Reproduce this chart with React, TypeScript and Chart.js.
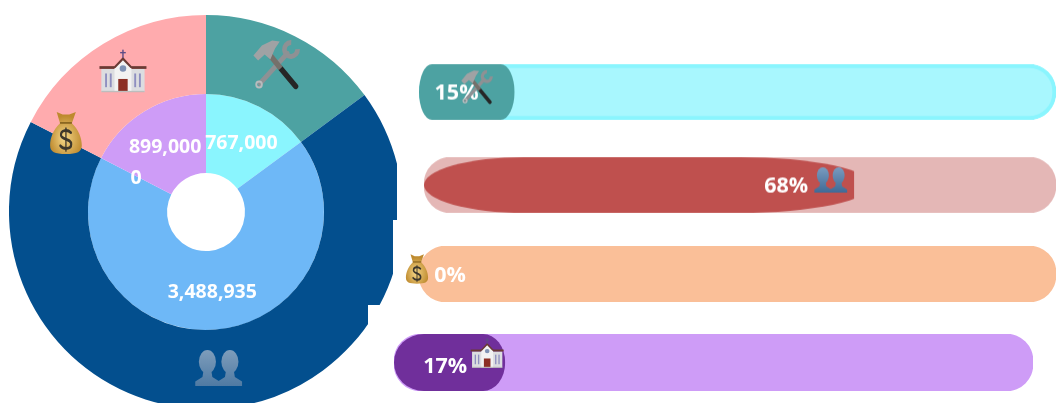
import React, { useEffect, useRef } from "react";
import { Chart, registerables } from "chart.js";

Chart.register(...registerables);

// ---- data ----
const categories = ["tools", "people", "money", "church"];
const amounts = [767000, 3488935, 0, 899000];
const percents = [15, 68, 0, 17.4];

// ---- styles ----
const outerColors = ["#4DA2A2", "#034F8E", "#F79646", "#FFABAE"];
const innerColors = ["#8AF5FE", "#6EB8F7", "#F9BF98", "#CE9CF7"];
const trackColors = ["#A8F7FE", "#E4B7B6", "#FABF98", "#CE9CF7"];
const trackBorders = ["#8AF5FE", "#E4B7B6", "#FABF98", "#CE9CF7"];
const trackBorderWidths = [4, 0, 0, 0];
const fillColors = ["#4DA2A2", "#BF504E", "rgba(0,0,0,0)", "#702F9B"];
const FONT = "bold 19.5px 'Open Sans'";
const BAR_FONT = "bold 21.5px 'Open Sans'";
const PAD = 40;
const rowBoxes = [
  { left: 419, top: 64, width: 637, height: 55.5 },
  { left: 424, top: 157, width: 632, height: 55.5 },
  { left: 419, top: 246, width: 637, height: 56 },
  { left: 394, top: 334, width: 639, height: 57 },
];
const fillShape = [
  { rxL: 13, rxR: 14, over: 0 },
  { rxL: 100, rxR: 132, over: 18 },
  { rxL: 1, rxR: 1, over: 0 },
  { rxL: 30, rxR: 22, over: 0 },
];
// offsets from the end of each filled bar
const labelDx = [-58, -67.5, 31, -60];
const labelDy = [1.5, 1.5, 2, 4];
const iconDx = [-38, -23, -2, -18];
const iconDy = [-5, -5, -5, -8.5];
const iconSize = [0.68, 0.7, 0.7, 0.7];
const ringIconOffset = [
  [-1, -7],
  [0, -1],
  [0, -7],
  [-1, -5],
];

// ---- icons: drawn centred on (0,0) in a 100-unit box ----
function tools(c: CanvasRenderingContext2D) {
  c.lineCap = "round";
  // wrench
  c.strokeStyle = "#8E9194";
  c.lineWidth = 10;
  c.beginPath();
  c.moveTo(-34, 38);
  c.lineTo(24, -22);
  c.stroke();
  c.lineWidth = 10;
  c.lineCap = "butt";
  c.beginPath();
  c.arc(32, -30, 14, -Math.PI / 4 + 0.75, -Math.PI / 4 - 0.75 + Math.PI * 2);
  c.stroke();
  c.strokeStyle = "#B9BBBD";
  c.lineWidth = 4;
  c.beginPath();
  c.arc(-36, 40, 6, 0, Math.PI * 2);
  c.stroke();
  // hammer
  c.strokeStyle = "#262626";
  c.lineWidth = 11;
  c.lineCap = "round";
  c.beginPath();
  c.moveTo(42, 44);
  c.lineTo(10, 8);
  c.stroke();
  c.lineCap = "butt";
  c.strokeStyle = "#75706B";
  c.beginPath();
  c.moveTo(10, 8);
  c.lineTo(-14, -20);
  c.stroke();
  c.fillStyle = "#A0A2A4";
  c.beginPath();
  c.moveTo(-48, -18);
  c.lineTo(-30, -38);
  c.lineTo(-8, -48);
  c.lineTo(8, -46);
  c.lineTo(-2, -32);
  c.lineTo(-12, -10);
  c.lineTo(-24, -20);
  c.lineTo(-38, -8);
  c.closePath();
  c.fill();
}
function people(c: CanvasRenderingContext2D, dark: boolean) {
  const g = c.createLinearGradient(0, -40, 0, 40);
  g.addColorStop(0, dark ? "#7E9DBB" : "#7A9CC0");
  g.addColorStop(1, dark ? "#4F7AA3" : "#3F6A96");
  c.fillStyle = g;
  for (const dx of [-25, 25]) {
    c.beginPath();
    c.ellipse(dx, -14, 19, 26, 0, 0, Math.PI * 2);
    c.fill();
    c.beginPath();
    c.moveTo(dx - 9, 8);
    c.lineTo(dx - 11, 20);
    c.lineTo(dx - 27, 30);
    c.lineTo(dx - 27, 40);
    c.lineTo(dx + 27, 40);
    c.lineTo(dx + 27, 30);
    c.lineTo(dx + 11, 20);
    c.lineTo(dx + 9, 8);
    c.closePath();
    c.fill();
  }
}
function money(c: CanvasRenderingContext2D) {
  const g = c.createRadialGradient(-6, 12, 4, 0, 12, 52);
  g.addColorStop(0, "#F0D080");
  g.addColorStop(1, "#BE8A2E");
  c.fillStyle = g;
  c.beginPath();
  c.moveTo(-28, -48);
  c.lineTo(-10, -42);
  c.lineTo(10, -42);
  c.lineTo(30, -48);
  c.lineTo(18, -22);
  c.bezierCurveTo(38, -8, 48, 12, 48, 28);
  c.bezierCurveTo(48, 44, 34, 48, 0, 48);
  c.bezierCurveTo(-34, 48, -48, 44, -48, 28);
  c.bezierCurveTo(-48, 12, -38, -8, -18, -22);
  c.closePath();
  c.fill();
  c.fillStyle = "#8A6620";
  c.fillRect(-18, -25, 36, 4);
  // dollar sign
  c.strokeStyle = "#3D372C";
  c.lineWidth = 6.5;
  c.lineCap = "round";
  c.beginPath();
  c.moveTo(15, -1);
  c.bezierCurveTo(6, -8, -16, -8, -15, 5);
  c.bezierCurveTo(-14, 16, 16, 12, 16, 26);
  c.bezierCurveTo(16, 38, -8, 38, -17, 29);
  c.stroke();
  c.lineWidth = 4;
  c.beginPath();
  c.moveTo(0, -11);
  c.lineTo(0, 41);
  c.stroke();
}
function church(c: CanvasRenderingContext2D) {
  c.fillStyle = "#DCDDE0";
  c.fillRect(-46, -8, 92, 50);
  c.fillStyle = "#F2F2F2";
  c.beginPath();
  c.moveTo(-18, 42);
  c.lineTo(-18, -12);
  c.lineTo(0, -30);
  c.lineTo(18, -12);
  c.lineTo(18, 42);
  c.closePath();
  c.fill();
  c.fillStyle = "#6B3A34";
  c.fillRect(-50, -14, 32, 6);
  c.fillRect(18, -14, 32, 6);
  c.beginPath();
  c.moveTo(-22, -10);
  c.lineTo(0, -34);
  c.lineTo(22, -10);
  c.lineTo(16, -10);
  c.lineTo(0, -27);
  c.lineTo(-16, -10);
  c.closePath();
  c.fill();
  c.fillStyle = "#5E4D86";
  c.fillRect(-1.5, -50, 3, 18);
  c.fillRect(-6, -45, 12, 3);
  c.fillStyle = "#7F92B5";
  c.beginPath();
  c.arc(0, -9, 7, 0, Math.PI * 2);
  c.fill();
  c.fillStyle = "#8C2F25";
  c.fillRect(-10, 14, 20, 28);
  c.fillStyle = "#8E8FC0";
  for (const x of [-38, -28, 24, 34]) c.fillRect(x, 2, 4, 30);
  c.fillStyle = "#BDBDBD";
  c.fillRect(-46, 40, 92, 3);
}
const iconBox: Record<string, [number, number]> = {
  tools: [47, 48],
  people: [45, 36],
  money: [33, 42],
  church: [47, 43],
};
function drawIcon(c: CanvasRenderingContext2D, name: string, x: number, y: number, scale: number, dark: boolean) {
  const [w, h] = iconBox[name];
  c.save();
  c.translate(x, y);
  c.scale((w * scale) / 100, (h * scale) / (name === "people" ? 80 : name === "church" ? 94 : 96));
  if (name === "tools") tools(c);
  if (name === "people") people(c, dark);
  if (name === "money") money(c);
  if (name === "church") church(c);
  c.restore();
}

const fmt = (n: number) => n.toLocaleString("en-US");

const ringPlugin = {
  id: "ringLabels",
  afterDatasetsDraw(chart: any) {
    const c = chart.ctx as CanvasRenderingContext2D;
    c.save();
    chart.getDatasetMeta(0).data.forEach((arc: any, i: number) => {
      const p = arc.getCenterPoint();
      drawIcon(c, categories[i], p.x + ringIconOffset[i][0], p.y + ringIconOffset[i][1], 1, true);
    });
    c.fillStyle = "#fff";
    c.font = FONT;
    c.textAlign = "center";
    c.textBaseline = "middle";
    chart.getDatasetMeta(1).data.forEach((arc: any, i: number) => {
      const p = arc.getCenterPoint();
      c.fillText(fmt(amounts[i]), p.x, p.y + 2);
    });
    c.restore();
  },
};

function barPlugin(row: number) {
  return {
    id: "rowDecor",
    beforeDatasetDraw(chart: any, args: any) {
      if (args.index !== 0) return;
      const c = chart.ctx as CanvasRenderingContext2D;
      const bar = chart.getDatasetMeta(0).data[0];
      const s = fillShape[row];
      const h = bar.height / 2;
      const xL = bar.base + s.rxL;
      const xR = bar.x + s.over - s.rxR;
      c.save();
      c.beginPath();
      c.moveTo(xL, bar.y - h);
      c.lineTo(xR, bar.y - h);
      c.ellipse(xR, bar.y, s.rxR, h, 0, -Math.PI / 2, Math.PI / 2);
      c.lineTo(xL, bar.y + h);
      c.ellipse(xL, bar.y, s.rxL, h, 0, Math.PI / 2, (Math.PI * 3) / 2);
      c.closePath();
      c.clip();
    },
    afterDatasetDraw(chart: any, args: any) {
      if (args.index === 0) chart.ctx.restore();
    },
    afterDatasetsDraw(chart: any) {
      const c = chart.ctx as CanvasRenderingContext2D;
      const bar = chart.getDatasetMeta(0).data[0];
      c.save();
      c.fillStyle = "#fff";
      c.font = BAR_FONT;
      c.textAlign = "center";
      c.textBaseline = "middle";
      c.fillText(Math.round(percents[row]) + "%", bar.x + labelDx[row], bar.y + labelDy[row]);
      drawIcon(c, categories[row], bar.x + iconDx[row], bar.y + iconDy[row], iconSize[row], false);
      c.restore();
    },
  };
}

function BarRow({ row }: { row: number }) {
  const ref = useRef<HTMLCanvasElement>(null);
  useEffect(() => {
    const chart = new Chart(ref.current!, {
      type: "bar",
      data: {
        labels: [categories[row]],
        datasets: [
          {
            data: [percents[row]],
            backgroundColor: fillColors[row],
            borderWidth: 0,
            grouped: false,
            barPercentage: 1,
            categoryPercentage: 1,
            clip: false,
          },
          {
            data: [100],
            backgroundColor: trackColors[row],
            borderColor: trackBorders[row],
            borderWidth: trackBorderWidths[row],
            borderSkipped: false,
            borderRadius: 27,
            grouped: false,
            barPercentage: 1,
            categoryPercentage: 1,
          },
        ],
      } as any,
      options: {
        indexAxis: "y",
        animation: false,
        responsive: false,
        layout: { padding: { left: PAD, right: 0, top: 10, bottom: 10 } },
        plugins: { legend: { display: false }, tooltip: { enabled: false } },
        scales: {
          x: { display: false, min: 0, max: 100 },
          y: { display: false },
        },
      } as any,
      plugins: [barPlugin(row)],
    });
    return () => chart.destroy();
  }, [row]);
  const b = rowBoxes[row];
  return (
    <canvas
      ref={ref}
      width={b.width + PAD}
      height={b.height + 20}
      style={{
        position: "absolute",
        left: b.left - PAD,
        top: b.top - 10,
        width: b.width + PAD,
        height: b.height + 20,
        filter: "blur(0.5px)",
      }}
    />
  );
}

function Ring() {
  const ref = useRef<HTMLCanvasElement>(null);
  useEffect(() => {
    const chart = new Chart(ref.current!, {
      type: "doughnut",
      data: {
        labels: categories,
        datasets: [
          { data: amounts, backgroundColor: outerColors, borderWidth: 0 },
          { data: amounts, backgroundColor: innerColors, borderWidth: 0 },
        ],
      },
      options: {
        animation: false,
        responsive: false,
        cutout: "19.8%",
        plugins: { legend: { display: false }, tooltip: { enabled: false } },
      } as any,
      plugins: [ringPlugin],
    });
    return () => chart.destroy();
  }, []);
  return (
    <div
      style={{
        position: "absolute",
        left: 0,
        top: 0,
        width: 397,
        height: 403,
        overflow: "hidden",
        clipPath: "polygon(0 0, 397px 0, 397px 220px, 393px 220px, 393px 305px, 368px 305px, 368px 403px, 0 403px)",
      }}
    >
      <canvas
        ref={ref}
        width={394}
        height={394}
        style={{ position: "absolute", left: 9, top: 15, width: 394, height: 394, filter: "blur(0.5px)" }}
      />
    </div>
  );
}

export default function App() {
  return (
    <div style={{ position: "fixed", left: 0, top: 0, width: 1056, height: 403, overflow: "hidden", background: "#fff" }}>
      <Ring />
      {categories.map((_, i) => (
        <BarRow key={i} row={i} />
      ))}
    </div>
  );
}
